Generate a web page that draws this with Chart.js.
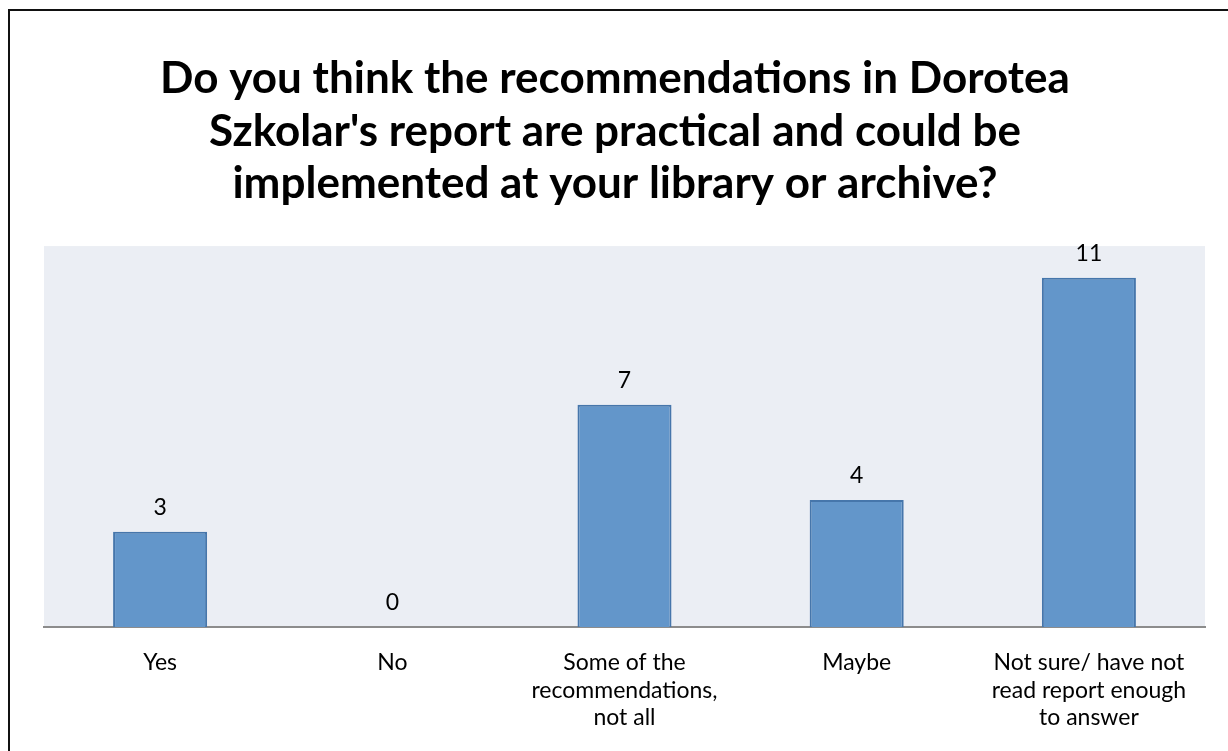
<!DOCTYPE html>
<html>
<head>
<meta charset="utf-8">
<script src="https://cdn.jsdelivr.net/npm/chart.js@4"></script>
<style>
  html, body { margin: 0; padding: 0; background: #fff; overflow: hidden; }
  #wrap { position: relative; width: 1228px; height: 751px; }
  #frame { position: absolute; left: 8px; top: 9px; width: 1240px; height: 760px; border: 2px solid #111; box-sizing: border-box; pointer-events: none; }
</style>
</head>
<body>
<div id="wrap">
  <canvas id="surveyChart" width="1228" height="751"></canvas>
  <div id="frame"></div>
</div>
<script>
const titleLines = [
    'Do you think the recommendations in Dorotea',
    "Szkolar's report are practical and could be",
    'implemented at your library or archive?'
];
const answers = [
    'Yes',
    'No',
    ['Some of the', 'recommendations,', 'not all'],
    'Maybe',
    ['Not sure/ have not', 'read report enough', 'to answer']
];
const responses = [3, 0, 7, 4, 11];
const yMax = 12;

const FONT = 'Lato, "Open Sans", sans-serif';

// light plot background + value labels over the bars
const plotBackground = {
    id: 'plotBackground',
    beforeDraw(chart) {
        const { ctx, chartArea } = chart;
        ctx.save();
        ctx.fillStyle = '#EBEEF4';
        ctx.fillRect(chartArea.left, chartArea.top, chartArea.right - chartArea.left, chartArea.bottom - chartArea.top);
        ctx.restore();
    }
};

const valueLabels = {
    id: 'valueLabels',
    afterDatasetsDraw(chart) {
        const { ctx } = chart;
        const meta = chart.getDatasetMeta(0);
        ctx.save();
        ctx.font = '23px ' + FONT;
        ctx.fillStyle = '#000';
        ctx.textAlign = 'center';
        ctx.textBaseline = 'bottom';
        meta.data.forEach((bar, i) => {
            ctx.fillText(String(responses[i]), bar.x, bar.y - 13);
        });
        ctx.restore();
    }
};

// invisible axis used only as spacing
function spacer(side, w) {
    return {
        position: side,
        display: true,
        min: 0,
        max: yMax,
        grid: { display: false },
        border: { display: false },
        ticks: { display: false },
        afterFit(scale) { scale.width = w; }
    };
}

new Chart(document.getElementById('surveyChart').getContext('2d'), {
    type: 'bar',
    data: {
        labels: answers,
        datasets: [{
            data: responses,
            backgroundColor: '#6396CA',
            borderColor: '#4676AB',
            borderWidth: 2,
            categoryPercentage: 1,
            barPercentage: 0.405
        }]
    },
    options: {
        responsive: false,
        animation: false,
        layout: { padding: { left: 9, right: 7, top: 0, bottom: 0 } },
        plugins: {
            legend: { display: false },
            tooltip: { enabled: false },
            title: {
                display: true,
                text: titleLines,
                color: '#000',
                font: { family: FONT, size: 44, weight: 'bold', lineHeight: 1.19 },
                padding: { top: 53, bottom: 36 }
            }
        },
        scales: {
            x: {
                grid: { display: false, drawTicks: false },
                border: { color: '#8C8C8C', width: 2 },
                ticks: {
                    color: '#000',
                    font: { family: FONT, size: 23, lineHeight: 1.2 },
                    padding: 22,
                    maxRotation: 0,
                    autoSkip: false
                },
                afterFit(scale) { scale.height = 124; }
            },
            y: spacer('left', 35),
            yRight: spacer('right', 16)
        }
    },
    plugins: [plotBackground, valueLabels]
});
</script>
</body>
</html>
